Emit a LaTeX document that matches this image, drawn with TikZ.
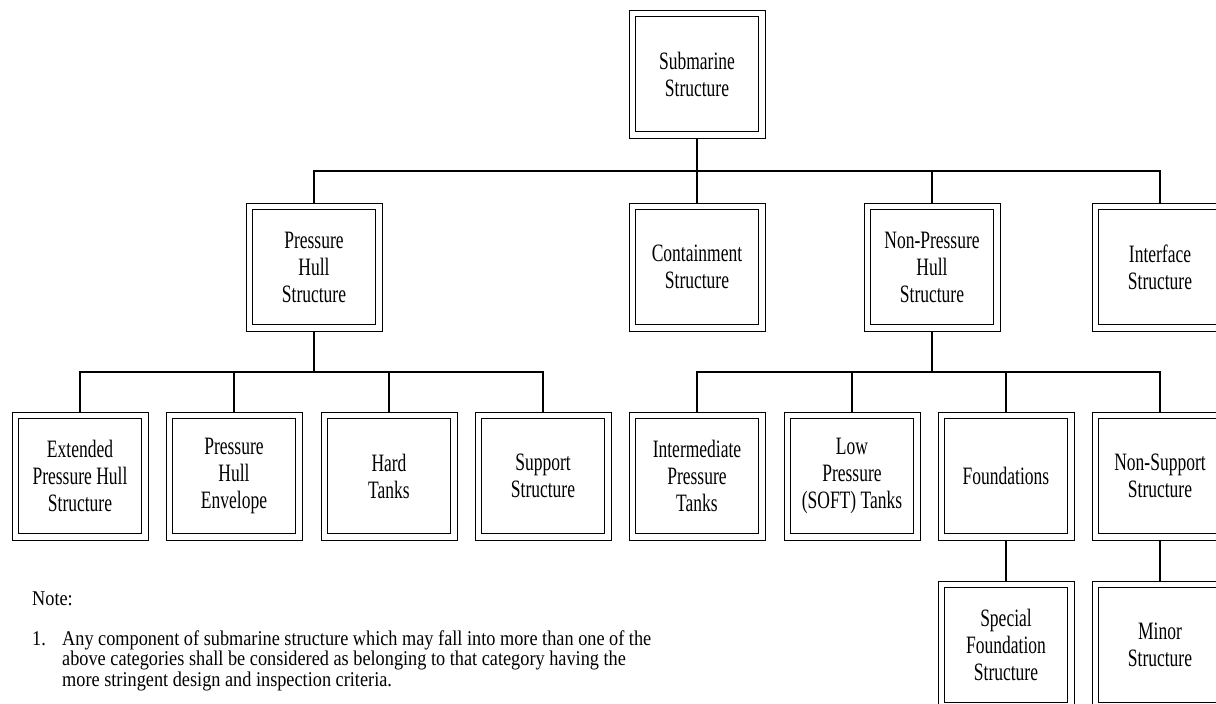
\documentclass[tikz,border=0pt]{standalone}
\usepackage{fontspec}
\setmainfont{Liberation Serif}[FakeStretch=0.7]
\newfontfamily\notefont{Liberation Serif}[FakeStretch=0.87]
\usepackage{tikz}

\tikzset{
    sbox/.style={draw, line width=0.8pt, minimum width=136pt, minimum height=128pt,
        inner sep=0pt, outer sep=0pt, align=center,
        font=\fontsize{25}{27}\selectfont,
        path picture={\draw[line width=1.3pt]
            ([shift={(6.5pt,6.5pt)}]path picture bounding box.south west) rectangle
            ([shift={(-6.5pt,-6.5pt)}]path picture bounding box.north east);}},
    conn/.style={line width=1.8pt},
    notestyle/.style={inner sep=0pt, font=\notefont\fontsize{21}{20.5}\selectfont}
}

\begin{document}
\begin{tikzpicture}[x=1pt,y=-1pt]
        \clip (0,0) rectangle (1216,704);
        \useasboundingbox (0,0) rectangle (1216,704);
        % top
        \node[sbox] (sub) at (697,74) {Submarine\\Structure};
        % second row
        \node[sbox] (phs) at (314,267) {Pressure\\Hull\\Structure};
        \node[sbox] (cs) at (697,267) {Containment\\Structure};
        \node[sbox] (nph) at (932,267) {Non-Pressure\\Hull\\Structure};
        \node[sbox] (ifs) at (1160,267) {Interface\\Structure};
        % third row
        \node[sbox] (ephs) at (80,476) {Extended\\Pressure Hull\\Structure};
        \node[sbox] (phe) at (234,476) {Pressure\\Hull\\Envelope};
        \node[sbox] (ht) at (389,476) {Hard\\Tanks};
        \node[sbox] (ss) at (543,476) {Support\\Structure};
        \node[sbox] (ipt) at (697,476) {Intermediate\\Pressure\\Tanks};
        \node[sbox] (lpt) at (852,476) {Low\\Pressure\\(SOFT) Tanks};
        \node[sbox] (fnd) at (1006,476) {Foundations};
        \node[sbox] (nss) at (1160,476) {Non-Support\\Structure};
        % fourth row
        \node[sbox] (sfs) at (1006,645) {Special\\Foundation\\Structure};
        \node[sbox] (ms) at (1160,645) {Minor\\Structure};
        % buses
        \coordinate (bus1) at (697,171);
        \coordinate (bus2) at (314,372);
        \coordinate (bus3) at (932,372);
        \draw[conn] (sub.south) -- (bus1);
        \draw[conn] (phs.north) |- (bus1) -| (ifs.north);
        \draw[conn] (bus1) -- (cs.north);
        \draw[conn] (nph.north) -- (nph.north |- bus1);
        \draw[conn] (phs.south) -- (bus2);
        \draw[conn] (ephs.north) |- (bus2) -| (ss.north);
        \draw[conn] (phe.north) -- (phe.north |- bus2);
        \draw[conn] (ht.north) -- (ht.north |- bus2);
        \draw[conn] (nph.south) -- (bus3);
        \draw[conn] (ipt.north) |- (bus3) -| (nss.north);
        \draw[conn] (lpt.north) -- (lpt.north |- bus3);
        \draw[conn] (fnd.north) -- (fnd.north |- bus3);
        \draw[conn] (fnd.south) -- (sfs.north);
        \draw[conn] (nss.south) -- (ms.north);
        % note
        \node[notestyle, anchor=base west] (note) at (32,605) {Note:};
        \node[notestyle, anchor=base west] (num) at (32,645) {1.};
        \node[notestyle, anchor=base west, align=left] (notetext) at (62,686)
            {Any component of submarine structure which may fall into more than one of the\\
             above categories shall be considered as belonging to that category having the\\
             more stringent design and inspection criteria.};
\end{tikzpicture}
\end{document}
